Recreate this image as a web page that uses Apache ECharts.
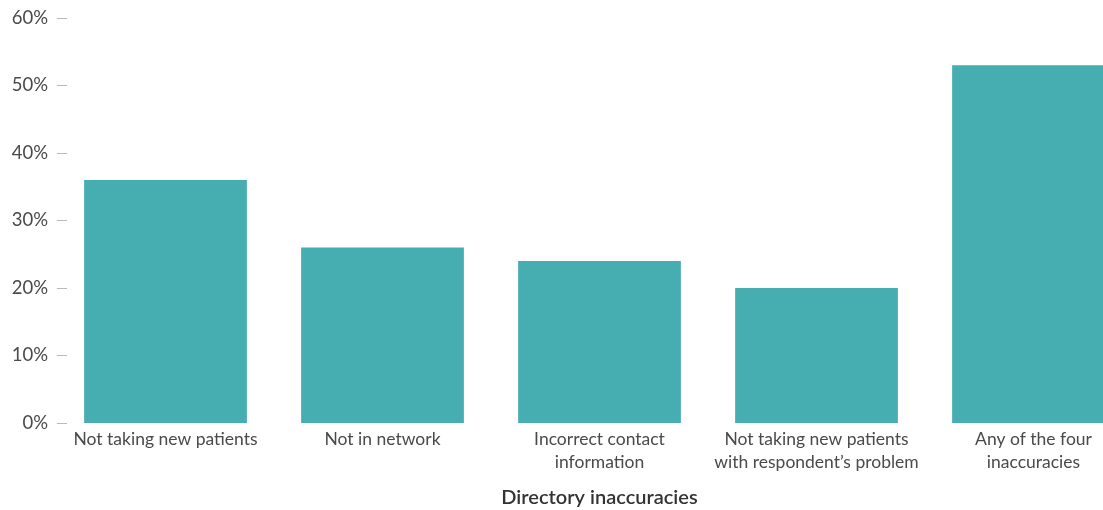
<!DOCTYPE html>
<html><head><meta charset="utf-8">
<script src="https://cdn.jsdelivr.net/npm/echarts@6/dist/echarts.min.js"></script>
<style>html,body{margin:0;padding:0;background:#fff}#c{width:1103px;height:510px}</style>
</head><body><div id="c"></div>
<script>
const categories = ["Not taking new patients", "Not in network", "Incorrect contact\ninformation", "Not taking new patients\nwith respondent\u2019s problem", "Any of the four\ninaccuracies"];
const values = [36, 26, 24, 20, 53];
const axisTitle = "Directory inaccuracies";
const font = "Lato";
const chart = echarts.init(document.getElementById('c'), null, {renderer: 'canvas'});
chart.setOption({
  animation: false,
  grid: {left: 57, top: 18, width: 1085, height: 405, containLabel: false, outerBoundsMode: 'none'},
  xAxis: {
    type: 'category', data: categories,
    axisLine: {show: false}, axisTick: {show: false},
    axisLabel: {color: '#4a4a4a', fontFamily: font, fontSize: 17.5, lineHeight: 23, margin: 5, interval: 0},
    name: axisTitle, nameLocation: 'middle', nameGap: 65,
    nameTextStyle: {color: '#333', fontFamily: font, fontSize: 20, fontWeight: 600}
  },
  yAxis: {
    type: 'value', min: 0, max: 60, interval: 10,
    axisLine: {show: false},
    axisTick: {show: true, inside: true, length: 10, lineStyle: {color: '#bbb', width: 1}},
    splitLine: {show: false},
    axisLabel: {color: '#4a4a4a', fontFamily: font, fontSize: 18.5, margin: 9, formatter: '{value}%'}
  },
  series: [{type: 'bar', data: values, barWidth: '75%', itemStyle: {color: '#46adb0'}}]
});
</script></body></html>
